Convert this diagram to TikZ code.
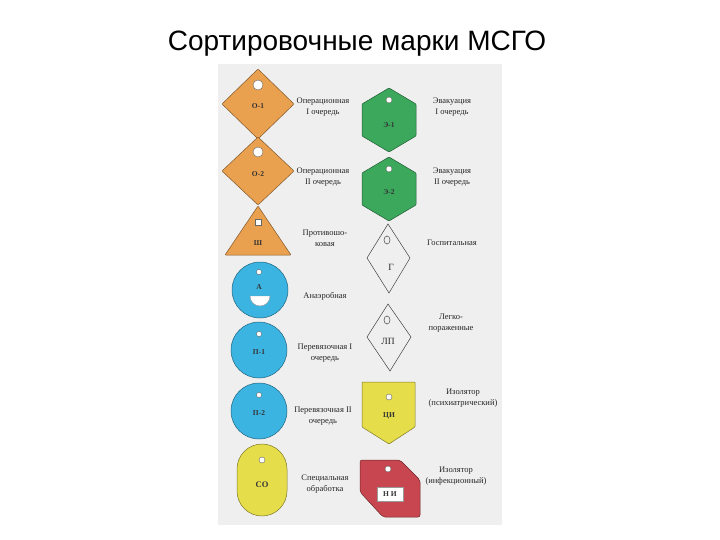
\documentclass[tikz,border=0pt]{standalone}
\usepackage{fontspec}
\setmainfont{Liberation Serif}
\newfontfamily\titlefont{Liberation Sans}
\definecolor{tagorange}{HTML}{E9A04F}
\definecolor{taggreen}{HTML}{3BA85C}
\definecolor{tagblue}{HTML}{3CB4E2}
\definecolor{tagyellow}{HTML}{E6DD4B}
\definecolor{tagred}{HTML}{C8464F}
\definecolor{panelgray}{HTML}{EFEFEF}
\tikzset{
  tag/.style={draw=#1!55!black, line width=0.5pt, fill=#1, rounded corners=0.8pt},
  hole/.style={fill=white, draw=black!60, line width=0.4pt},
  outl/.style={draw=black!75, line width=0.5pt},
  lbl/.style={font=\fontsize{8.5}{11}\selectfont, align=center, text=black!85, inner sep=0pt},
  code/.style={font=\bfseries\fontsize{7.5}{8}\selectfont, text=black!80, inner sep=0pt},
  wcode/.style={font=\fontsize{9.5}{10}\selectfont, text=black!85, inner sep=0pt},
}
\begin{document}
\begin{tikzpicture}[x=1pt,y=-1pt]
\useasboundingbox (0,0) rectangle (720,540);
\fill[white] (0,0) rectangle (720,540);
\fill[panelgray] (218,64) rectangle (502,525);
\node[anchor=base, font=\titlefont\fontsize{28}{32}\selectfont, inner sep=0pt] (title) at (357,51) {Сортировочные марки МСГО};

% left column
\draw[tag=tagorange] (258,69) -- (294,104) -- (258,139) -- (222,104) -- cycle;
\draw[hole] (258,85) circle (5pt);
\node[code] (o1) at (258,106) {О-1};

\draw[tag=tagorange] (258,137) -- (294,171) -- (258,205) -- (222,171) -- cycle;
\draw[hole] (258,152) circle (5pt);
\node[code] (o2) at (258,174) {О-2};

\draw[tag=tagorange] (258,206) -- (291,255) -- (225,255) -- cycle;
\draw[hole, rounded corners=0pt] (255,219) rectangle (261,225);
\node[code] (sh) at (258,243) {Ш};

\draw[tag=tagblue] (260,290) circle (28pt);
\draw[hole] (259,272) circle (2.6pt);
\node[code] (a) at (259,287) {А};
\draw[hole, draw=black!40] (250,296) arc[start angle=180, end angle=360, radius=10pt] -- cycle;

\draw[tag=tagblue] (259,350) circle (28pt);
\draw[hole] (259,334) circle (2.6pt);
\node[code] (p1) at (259,352) {П-1};

\draw[tag=tagblue] (259,411) circle (28pt);
\draw[hole] (259,395) circle (2.6pt);
\node[code] (p2) at (259,413) {П-2};

\draw[tag=tagyellow, rounded corners=25pt] (237,444) rectangle (287,516);
\draw[hole] (262,460) circle (3pt);
\node[code, font=\bfseries\fontsize{8.5}{9}\selectfont] (so) at (262,485) {СО};

% right column
\draw[tag=taggreen] (389,88) -- (416,104) -- (416,136) -- (389,152) -- (362,136) -- (362,104) -- cycle;
\draw[hole] (389,100) circle (3pt);
\node[code] (e1) at (389,125) {Э-1};

\draw[tag=taggreen] (389,157) -- (416,173) -- (416,205) -- (389,221) -- (362,205) -- (362,173) -- cycle;
\draw[hole] (389,169) circle (3pt);
\node[code] (e2) at (389,192) {Э-2};

\draw[outl] (388,224) -- (410,258) -- (389,293) -- (367,258) -- cycle;
\draw[outl] (387,240) ellipse [x radius=3pt, y radius=4pt];
\node[wcode] (g) at (391,267) {Г};

\draw[outl] (388,304) -- (411,337) -- (390,371) -- (367,337) -- cycle;
\draw[outl] (387,320) ellipse [x radius=3pt, y radius=4pt];
\node[wcode] (lp) at (388,341) {ЛП};

\draw[tag=tagyellow] (362,382) -- (415,382) -- (415,427) -- (389,444) -- (362,427) -- cycle;
\draw[hole] (389,397) circle (3pt);
\node[code] (ci) at (389,416) {ЦИ};

\draw[tag=tagred, rounded corners=2pt] (360,460) -- (400,460) -- (420,480) -- (420,517) -- (383,517) -- (360,492) -- cycle;
\draw[hole] (388,469) circle (3pt);
\node[code, fill=white, draw=black!40, minimum width=26pt, minimum height=14pt] (ni) at (390,494) {Н И};

% labels
\node[lbl] (lo1) at (323,107) {Операционная\\I очередь};
\node[lbl] (lo2) at (323,177) {Операционная\\II очередь};
\node[lbl] (lsh) at (325,238) {Противошо-\\ковая};
\node[lbl] (la) at (325,296) {Анаэробная};
\node[lbl] (lp1) at (325,353) {Перевязочная I\\очередь};
\node[lbl] (lp2) at (323,416) {Перевязочная II\\очередь};
\node[lbl] (lso) at (325,484) {Специальная\\обработка};

\node[lbl] (le1) at (452,107) {Эвакуация\\I очередь};
\node[lbl] (le2) at (452,177) {Эвакуация\\II очередь};
\node[lbl] (lg) at (452,243) {Госпитальная};
\node[lbl] (llp) at (451,323) {Легко-\\пораженные};
\node[lbl] (lci) at (463,398) {Изолятор\\(психиатрический)};
\node[lbl] (lni) at (456,476) {Изолятор\\(инфекционный)};
\end{tikzpicture}
\end{document}
